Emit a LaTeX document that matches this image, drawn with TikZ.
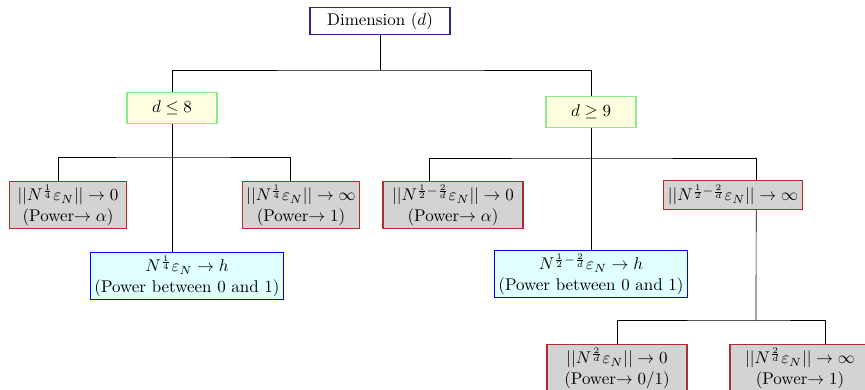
\documentclass[tikz,border=0pt]{standalone}
\usepackage{amsmath, amssymb}
\usepackage{tikz}
\usetikzlibrary{positioning}

\definecolor{rootblue}{RGB}{40,40,150}
\definecolor{leafred}{RGB}{175,45,45}
\definecolor{condgreen}{RGB}{140,235,140}
\definecolor{condfill}{RGB}{255,255,224}
\definecolor{leaffill}{RGB}{211,211,211}
\definecolor{midfill}{RGB}{224,255,255}

\begin{document}
\begin{tikzpicture}[
    x=0.0207cm, y=-0.0207cm,
    rootbox/.style={rectangle, draw=rootblue, thick, minimum width=2.9cm, minimum height=0.55cm, inner sep=2pt},
    condbox/.style={rectangle, draw=condgreen, fill=condfill, thick, minimum width=1.86cm, minimum height=0.64cm},
    leafbox/.style={rectangle, draw=leafred, fill=leaffill, thick, align=center, inner sep=2pt, minimum height=0.6cm},
    midbox/.style={rectangle, draw=blue, fill=midfill, thick, align=center, inner sep=2pt, minimum width=4cm},
]
\useasboundingbox (0,0) rectangle (865,389);

% ===== ROOT =====
\node[rootbox] (dim) at (380,21) {Dimension ($d$)};
\coordinate (topfork) at (380,70);

% ===== LOW DIMENSION =====
\node[condbox] (low) at (172,108) {$d \leq 8$};
\coordinate (lowfork) at (172,157);

\node[leafbox, minimum width=2.42cm] (lowzero) at (68,205) {$||N^{\frac{1}{4}}\varepsilon_N|| \to 0$\\(Power$\to \alpha$)};
\node[leafbox, minimum width=2.42cm] (lowinf) at (301,205) {$||N^{\frac{1}{4}}\varepsilon_N|| \to \infty$\\(Power$\to 1$)};
\node[midbox] (lowh) at (187,276) {$N^{\frac{1}{4}}\varepsilon_N \to h$\\(Power between 0 and 1)};

% ===== HIGH DIMENSION =====
\node[condbox] (high) at (591,112) {$d \geq 9$};
\coordinate (highfork) at (591,158);

\node[leafbox, minimum width=2.9cm] (highzero) at (453,205) {$||N^{\frac{1}{2}-\frac{2}{d}}\varepsilon_N|| \to 0$\\(Power$\to \alpha$)};
\node[leafbox, minimum width=2.88cm] (highinf) at (733,195) {$||N^{\frac{1}{2}-\frac{2}{d}}\varepsilon_N|| \to \infty$};
\node[midbox] (highh) at (591,274) {$N^{\frac{1}{2}-\frac{2}{d}}\varepsilon_N \to h$\\(Power between 0 and 1)};

\coordinate (infork) at (756,320);
\node[leafbox, minimum width=2.9cm] (botzero) at (617,368) {$||N^{\frac{2}{d}}\varepsilon_N|| \to 0$\\(Power$\to 0/1$)};
\node[leafbox, minimum width=2.9cm] (botinf) at (800,368) {$||N^{\frac{2}{d}}\varepsilon_N|| \to \infty$\\(Power$\to 1$)};

% ===== CONNECTORS =====
\draw (dim.south) -- (topfork);
\draw (low.north) |- (topfork) -| (high.north);

\draw (low.south) -- (low.south |- lowh.north);
\draw ([xshift=-0.2cm]lowzero.north) |- (lowfork) -| ([xshift=-0.23cm]lowinf.north);

\draw (high.south) -- (high.south |- highh.north);
\draw ([xshift=-0.48cm]highzero.north) |- (highfork) -| ([xshift=0.48cm]highinf.north);

\draw ([xshift=0.48cm]highinf.south) -- (infork);
\draw (botzero.north) |- (infork) -| ([xshift=0.52cm]botinf.north);

\end{tikzpicture}
\end{document}
